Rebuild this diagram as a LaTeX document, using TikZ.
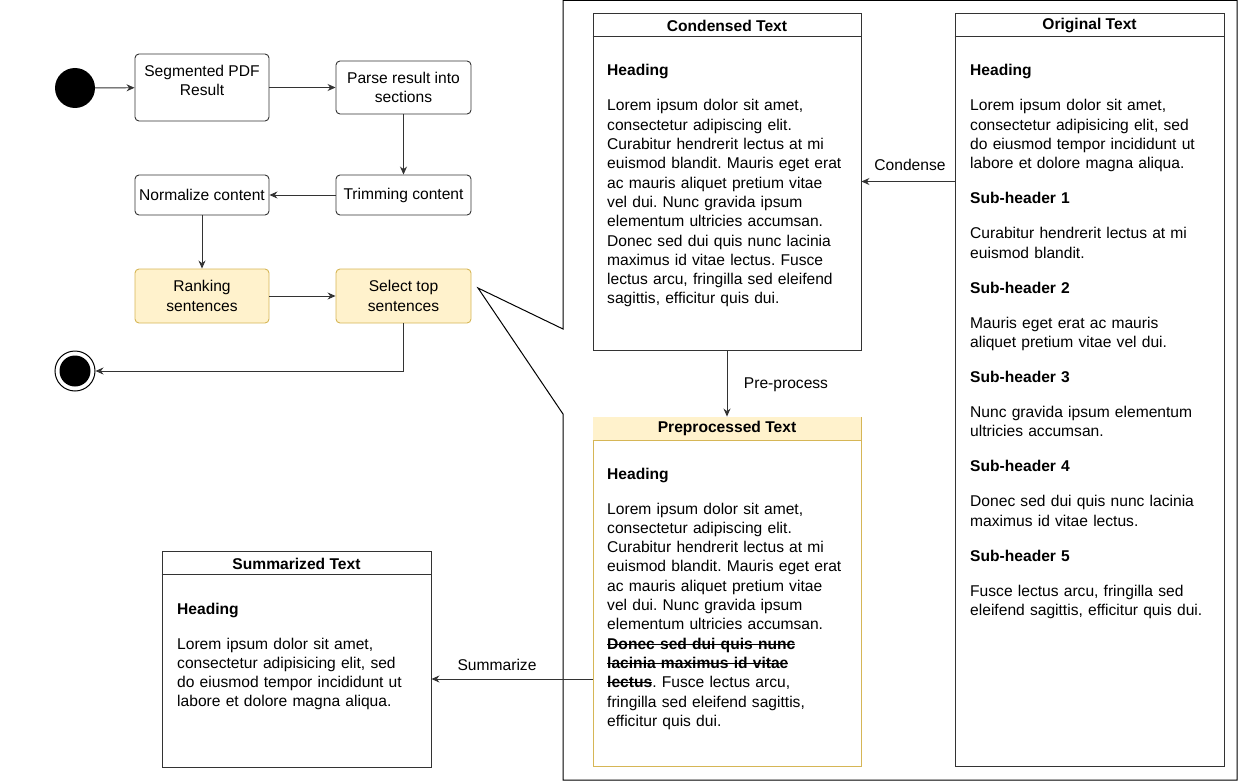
\documentclass[tikz,border=0pt]{standalone}
\usepackage{fontspec}
\setmainfont{Liberation Sans}
\usetikzlibrary{arrows.meta}
\definecolor{lc}{HTML}{333333}
\definecolor{yfill}{HTML}{FFF2CC}
\definecolor{ystroke}{HTML}{D6B656}
\newcommand\myfs{\fontsize{15.6}{19.3}\selectfont\frenchspacing}
\newcommand\gapp{\\[15.7pt]}
\newsavebox\strkbox
\newcommand\strk[1]{\sbox\strkbox{#1}\rlap{\rule[0.3em]{\wd\strkbox}{0.9pt}}\usebox\strkbox}
\tikzset{
  box/.style={draw=lc, rounded corners=4pt, minimum width=134pt, align=center, font=\myfs, inner sep=1pt, line width=0.9pt},
  ybox/.style={box, draw=ystroke, fill=yfill},
  panel/.style={draw=lc, minimum width=268pt, inner sep=0pt, line width=0.9pt},
  ypanel/.style={panel, draw=ystroke},
  title/.style={font=\myfs\bfseries, inner sep=0pt},
  body/.style={font=\myfs, text width=262pt, align=left, inner sep=0pt, anchor=base west},
  lbl/.style={font=\myfs, inner sep=0pt},
  arr/.style={draw=lc, line width=0.9pt, -{Stealth[length=8pt,width=7pt]}},
  outline/.style={draw=black, line width=1pt}
}
\begin{document}
\begin{tikzpicture}[x=1pt,y=-1pt]
\useasboundingbox (0,0) rectangle (1238,781);
% ---------- flowchart ----------
\node[circle, fill=black, minimum size=40pt, inner sep=0pt] (start) at (75,88) {};
\node[box, minimum height=67pt] (seg) at (202,87.5) {};
\node[lbl, align=center] (segt) at (202,80.5) {Segmented PDF\\Result};
\node[box, minimum width=135pt, minimum height=53pt] (parse) at (403.5,87.5) {Parse result into\\sections};
\node[box, minimum width=135pt, minimum height=40pt] (trim) at (403.5,195) {Trimming content};
\node[box, minimum height=40pt] (norm) at (202,195) {Normalize content};
\node[ybox, minimum height=54pt] (rank) at (202,296) {Ranking\\sentences};
\node[ybox, minimum width=135pt, minimum height=54pt] (sel) at (403.5,296) {Select top\\sentences};
\node[circle, draw=black, line width=1pt, minimum size=40pt, inner sep=0pt] (end) at (75,371) {};
\node[circle, fill=black, minimum size=31pt, inner sep=0pt] (endin) at (75,371) {};

\draw[arr] (start) -- (seg);
\draw[arr] (seg.east) -- (parse.west);
\draw[arr] (parse) -- (trim);
\draw[arr] (trim) -- (norm);
\draw[arr] (norm) -- (rank);
\draw[arr] (rank) -- (sel);
\draw[arr] (sel.south) |- (end.east);

% ---------- callout outline ----------
\coordinate (tip) at (478,288);
\draw[outline, line join=miter] (563,329) -- (tip) -- (563,414) -- (563,780) -- (1237,780) -- (1237,0.5) -- (563,0.5) -- cycle;

% ---------- panels ----------
\node[panel, minimum width=269pt, minimum height=753pt] (orig) at (1089.5,389.5) {};
\draw[lc, line width=0.9pt] ([yshift=-24pt]orig.north west) -- ([yshift=-24pt]orig.north east);
\node[title] (origt) at (1089.5,25.5) {Original Text};

\node[panel, minimum height=337pt] (cond) at (727,181.5) {};
\draw[lc, line width=0.9pt] ([yshift=-24pt]cond.north west) -- ([yshift=-24pt]cond.north east);
\node[title] (condt) at (727,25.5) {Condensed Text};

\node[ypanel, minimum height=349pt] (prep) at (727,591.5) {};
\fill[yfill] ([shift={(0.45pt,-0.45pt)}]prep.north west) rectangle ([shift={(-0.45pt,-24pt)}]prep.north east);
\draw[ystroke, line width=0.9pt] ([yshift=-24pt]prep.north west) -- ([yshift=-24pt]prep.north east);
\node[title] (prept) at (727,428.5) {Preprocessed Text};

\node[panel, minimum width=269pt, minimum height=216pt] (summ) at (296.5,659) {};
\draw[lc, line width=0.9pt] ([yshift=-24pt]summ.north west) -- ([yshift=-24pt]summ.north east);
\node[title] (summt) at (296.5,563.5) {Summarized Text};

% ---------- body texts ----------
\node[body] (condb) at (607,76) {\textbf{Heading}\gapp
Lorem ipsum dolor sit amet,\\
consectetur adipiscing elit.\\
Curabitur hendrerit lectus at mi\\
euismod blandit. Mauris eget erat\\
ac mauris aliquet pretium vitae\\
vel dui. Nunc gravida ipsum\\
elementum ultricies accumsan.\\
Donec sed dui quis nunc lacinia\\
maximus id vitae lectus. Fusce\\
lectus arcu, fringilla sed eleifend\\
sagittis, efficitur quis dui.};

\node[body] (origb) at (970,76) {\textbf{Heading}\gapp
Lorem ipsum dolor sit amet,\\
consectetur adipisicing elit, sed\\
do eiusmod tempor incididunt ut\\
labore et dolore magna aliqua.\gapp
\textbf{Sub-header 1}\gapp
Curabitur hendrerit lectus at mi\\
euismod blandit.\gapp
\textbf{Sub-header 2}\gapp
Mauris eget erat ac mauris\\
aliquet pretium vitae vel dui.\gapp
\textbf{Sub-header 3}\gapp
Nunc gravida ipsum elementum\\
ultricies accumsan.\gapp
\textbf{Sub-header 4}\gapp
Donec sed dui quis nunc lacinia\\
maximus id vitae lectus.\gapp
\textbf{Sub-header 5}\gapp
Fusce lectus arcu, fringilla sed\\
eleifend sagittis, efficitur quis dui.};

\node[body] (prepb) at (607,479) {\textbf{Heading}\gapp
Lorem ipsum dolor sit amet,\\
consectetur adipiscing elit.\\
Curabitur hendrerit lectus at mi\\
euismod blandit. Mauris eget erat\\
ac mauris aliquet pretium vitae\\
vel dui. Nunc gravida ipsum\\
elementum ultricies accumsan.\\
\textbf{\strk{Donec sed dui quis nunc}}\\
\textbf{\strk{lacinia maximus id vitae}}\\
\textbf{\strk{lectus}}. Fusce lectus arcu,\\
fringilla sed eleifend sagittis,\\
efficitur quis dui.};

\node[body] (summb) at (177,614) {\textbf{Heading}\gapp
Lorem ipsum dolor sit amet,\\
consectetur adipisicing elit, sed\\
do eiusmod tempor incididunt ut\\
labore et dolore magna aliqua.};

% ---------- connectors between panels ----------
\draw[arr] (orig.west |- cond.east) -- (cond.east);
\node[lbl] (condl) at (910,165) {Condense};
\draw[arr] (cond.south) -- (prep.north);
\node[lbl] (prepl) at (786,385) {Pre-process};
\coordinate (sy) at (0,679);
\draw[arr] (prep.west |- sy) -- (summ.east |- sy);
\node[lbl] (summl) at (497,665) {Summarize};
\end{tikzpicture}
\end{document}
